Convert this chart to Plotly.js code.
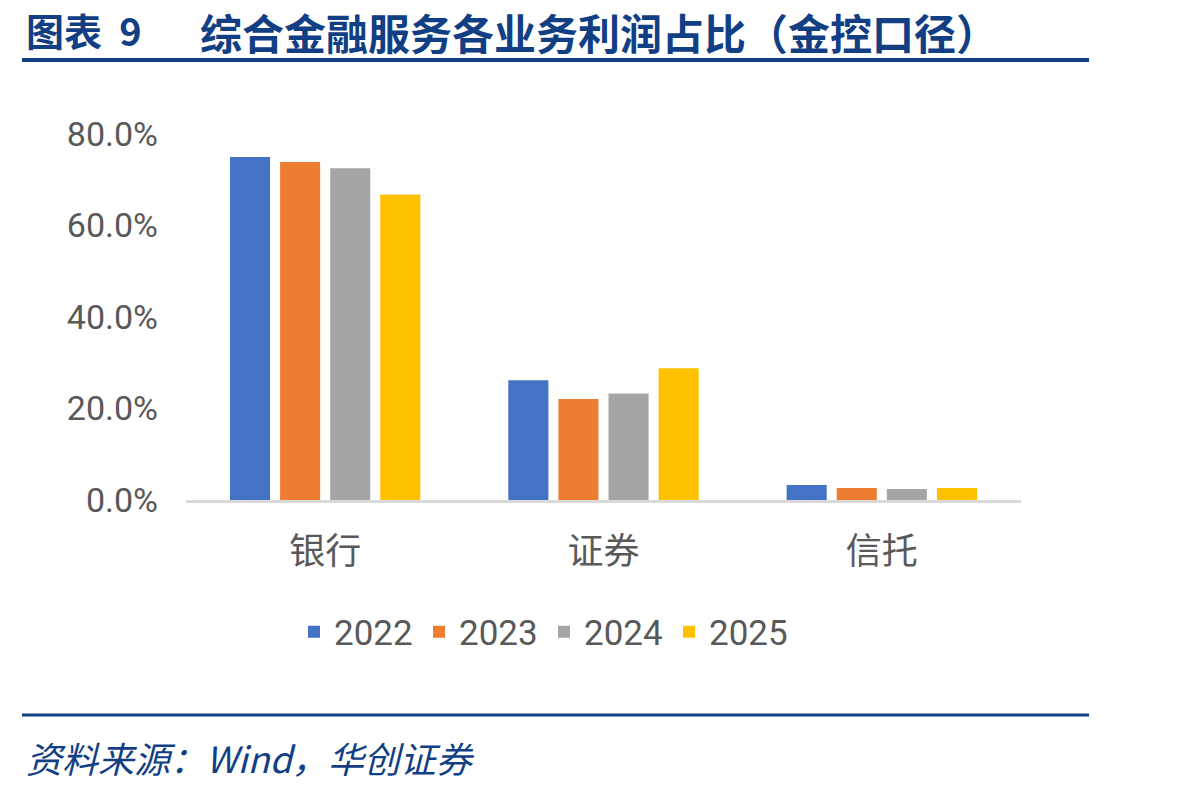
<!DOCTYPE html>
<html>
<head>
<meta charset="utf-8">
<script src="https://cdn.plot.ly/plotly-3.0.1.min.js"></script>
<style>
html,body{margin:0;padding:0;background:#fff;}
#chart{width:1198px;height:792px;}
</style>
</head>
<body>
<div id="chart"></div>
<script>
const categories = ['银行', '证券', '信托'];
const years = ['2022', '2023', '2024', '2025'];
const v2022 = [75.0, 26.2, 3.3];
const v2023 = [73.9, 22.1, 2.6];
const v2024 = [72.5, 23.3, 2.4];
const v2025 = [66.8, 28.8, 2.6];
const yTicks = [0, 20, 40, 60, 80];
const yTickLabels = ['0.0%', '20.0%', '40.0%', '60.0%', '80.0%'];
const titleNum = '图表&nbsp;&nbsp;9';
const titleText = '综合金融服务各业务利润占比（金控口径）';
const sourceText = '资料来源：Wind，华创证券';

const colors = ['#4472C4', '#ED7D31', '#A5A5A5', '#FFC000'];
const series = [v2022, v2023, v2024, v2025];

const W = 1198, H = 792;
const L = 186, R = 1021, T = 134, B = 500;
const px = x => (x - L) / (R - L);
const py = y => (B - y) / (B - T);

const numFont = 'Roboto, "Liberation Sans", sans-serif';
const cjkFont = '"Noto Sans CJK SC", "Noto Sans", sans-serif';
const blue = '#123f84';

const traces = series.map((vals, i) => ({
  type: 'bar',
  name: years[i],
  x: categories,
  y: vals,
  marker: {color: colors[i]},
  hoverinfo: 'skip'
}));

const layout = {
  width: W, height: H,
  margin: {l: L, r: W - R, t: T, b: H - B, pad: 0},
  paper_bgcolor: '#fff',
  plot_bgcolor: '#fff',
  barmode: 'group',
  bargap: 0.28,
  bargroupgap: 0.2,
  showlegend: true,
  legend: {
    orientation: 'h',
    x: px(294), xanchor: 'left',
    y: py(632), yanchor: 'middle',
    font: {family: numFont, size: 35, color: '#595959'},
    entrywidth: 80,
    itemclick: false, itemdoubleclick: false,
    traceorder: 'normal',
    bgcolor: 'rgba(0,0,0,0)'
  },
  xaxis: {
    type: 'category',
    showgrid: false,
    zeroline: false,
    showline: true,
    linecolor: '#d9d9d9',
    linewidth: 3,
    ticks: '',
    ticklabelstandoff: 18,
    tickfont: {family: cjkFont, size: 36, color: '#595959'},
    fixedrange: true
  },
  yaxis: {
    range: [0, 80],
    tickvals: yTicks,
    ticktext: yTickLabels,
    showgrid: false,
    zeroline: false,
    showline: false,
    ticks: '',
    ticklabelstandoff: 27,
    tickfont: {family: numFont, size: 34, color: '#595959'},
    fixedrange: true
  },
  shapes: [
    {type: 'line', xref: 'paper', yref: 'paper', x0: px(22), x1: px(1089), y0: py(60), y1: py(60),
     line: {color: blue, width: 4}},
    {type: 'line', xref: 'paper', yref: 'paper', x0: px(22), x1: px(1089), y0: py(715), y1: py(715),
     line: {color: blue, width: 3}}
  ],
  annotations: [
    {xref: 'paper', yref: 'paper', x: px(24), y: py(30), xanchor: 'left', yanchor: 'middle',
     showarrow: false, text: '<b>' + titleNum + '</b>',
     font: {family: cjkFont, size: 38, color: blue}},
    {xref: 'paper', yref: 'paper', x: px(198), y: py(31), xanchor: 'left', yanchor: 'middle',
     showarrow: false, text: '<b>' + titleText + '</b>',
     font: {family: cjkFont, size: 42, color: blue}},
    {xref: 'paper', yref: 'paper', x: px(24), y: py(757), xanchor: 'left', yanchor: 'middle',
     showarrow: false, text: '<i>' + sourceText + '</i>',
     font: {family: cjkFont, size: 36, color: blue}}
  ]
};

Plotly.newPlot('chart', traces, layout, {displayModeBar: false, staticPlot: true});
</script>
</body>
</html>
